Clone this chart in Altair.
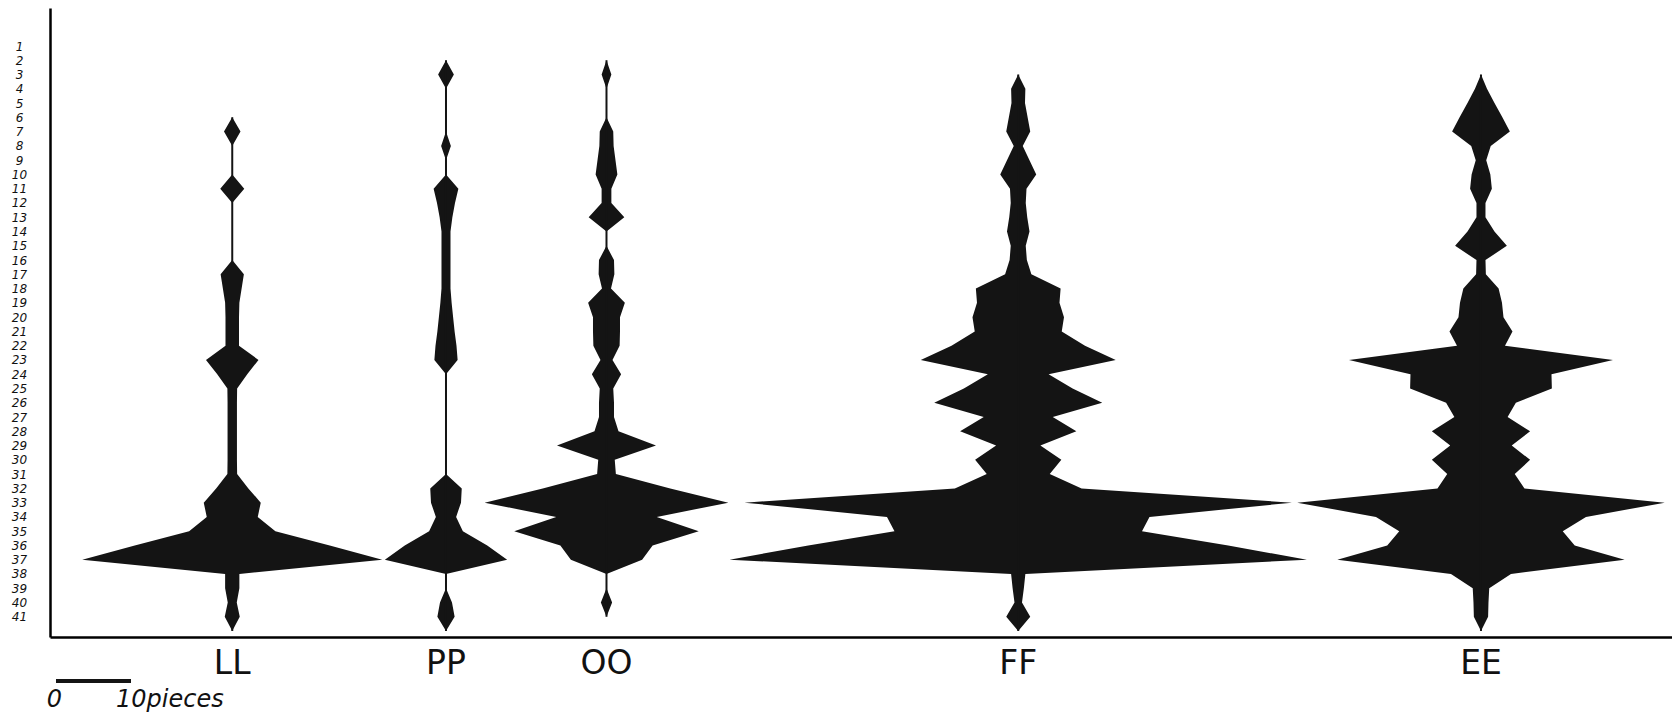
import altair as alt
import pandas as pd

# ---- data: number of pieces per level (levels 1..41) for each assemblage ----
levels = list(range(1, 42))
ships = ["LL", "PP", "OO", "FF", "EE"]

ll = [0, 0, 0, 0, 0, 0, 2.2, 0, 0, 0,
      3.2, 0, 0, 0, 0, 0, 3.1, 2.5, 1.9, 1.8,
      1.8, 1.8, 7.0, 4.0, 1.3, 1.25, 1.25, 1.25, 1.25, 1.25,
      1.3, 4.3, 7.6, 6.8, 11.5, 26, 40, 1.9, 1.9, 1.2,
      2.0]
pp = [0, 0, 2.1, 0, 0, 0, 0, 1.3, 0, 0,
      3.3, 2.4, 1.7, 1.2, 1.2, 1.2, 1.2, 1.2, 1.5, 1.9,
      2.3, 2.8, 3.1, 0, 0, 0, 0, 0, 0, 0,
      0, 4.2, 4.0, 2.7, 4.5, 11, 16.3, 0, 0, 1.6,
      2.3]
oo = [0, 0, 1.3, 0, 0, 0, 1.8, 1.9, 2.4, 2.9,
      1.3, 1.3, 4.75, 0, 0, 2.0, 2.1, 1.2, 4.9, 3.6,
      3.6, 3.5, 1.6, 3.9, 1.8, 2.0, 2.0, 3.2, 13.2, 2.2,
      2.5, 17, 32.5, 13.4, 24.6, 12.3, 9.5, 0, 0, 1.5,
      0]
ff = [0, 0, 0, 1.9, 1.8, 2.5, 3.2, 1.2, 3.0, 4.8,
      2.2, 2.0, 2.4, 3.0, 2.0, 2.3, 3.5, 11.3, 11.0, 12.2,
      11.6, 17.8, 26, 8.1, 14.5, 22.4, 9.2, 15.5, 5.9, 11.5,
      8.4, 16.9, 73, 35, 33, 56, 77, 1.9, 1.5, 1.0,
      3.2]
ee = [0, 0, 0, 1.6, 3.6, 5.7, 7.7, 2.6, 1.4, 2.5,
      2.9, 1.2, 1.2, 3.6, 6.9, 1.2, 1.3, 4.7, 5.6, 6.0,
      8.4, 6.4, 35.2, 18.8, 18.9, 9.3, 7.1, 13.1, 8.2, 13.1,
      9.0, 11.6, 49, 28, 21.8, 25, 38.3, 8.0, 2.2, 2.0,
      1.9]

# layout: centre line of each assemblage, in "pieces" along the x scale
ship_centre = {"LL": 24.3, "PP": 52.8, "OO": 74.2, "FF": 129.1, "EE": 190.8}

series = dict(zip(ships, [ll, pp, oo, ff, ee]))

rows = []
spine_rows = []
for name in ships:
    counts = series[name]
    for lev, c in zip(levels + [42], counts + [0]):
        rows.append({"ship": name, "level": lev, "count": c, "centre": ship_centre[name]})
    nz = [lev for lev, c in zip(levels, counts) if c > 0]
    spine_rows.append({"ship": name, "centre": ship_centre[name],
                       "start": nz[0] - 1, "end": nz[-1] + 1})

df = pd.DataFrame(rows)
spine_df = pd.DataFrame(spine_rows)
name_df = pd.DataFrame({"ship": ships, "centre": [ship_centre[s] for s in ships]})
bar_df = pd.DataFrame({"start": [0.8], "end": [10.8]})
bar0_df = pd.DataFrame({"x": [0.6], "t": ["0"]})
bar10_df = pd.DataFrame({"x": [8.8], "t": ["10pieces"]})

INK = "#141414"
x_scale = alt.Scale(domain=[0, 216.27], nice=False, zero=False)
y_scale = alt.Scale(domain=[-1.663, 42.415], reverse=True, nice=False, zero=False)

y_axis = alt.Axis(values=levels, title=None, ticks=False, grid=False,
                  domainColor="black", domainWidth=2.5,
                  labelFont="DejaVu Sans", labelFontStyle="italic",
                  labelFontSize=12, labelAlign="center", labelPadding=31,
                  labelColor="#111111", labelBaseline="middle")
x_axis = alt.Axis(title=None, labels=False, ticks=False, grid=False,
                  domainColor="black", domainWidth=2.5)

areas = alt.Chart(df).transform_calculate(
    left="datum.centre - datum.count / 2",
    right="datum.centre + datum.count / 2",
).mark_area(orient="horizontal", color=INK, interpolate="linear").encode(
    y=alt.Y("level:Q", scale=y_scale, axis=y_axis),
    x=alt.X("left:Q", scale=x_scale, axis=x_axis),
    x2="right:Q",
    detail="ship:N",
)

spine = alt.Chart(spine_df).mark_rule(color=INK, strokeWidth=2).encode(
    x=alt.X("centre:Q", scale=x_scale, axis=x_axis),
    y=alt.Y("start:Q", scale=y_scale, axis=y_axis),
    y2="end:Q",
)

names = alt.Chart(name_df).mark_text(
    fontSize=33, font="DejaVu Sans", baseline="alphabetic", align="center", color="#111111"
).encode(
    x=alt.X("centre:Q", scale=x_scale, axis=x_axis),
    y=alt.value(666),
    text="ship:N",
)

bar = alt.Chart(bar_df).mark_rule(color=INK, strokeWidth=4).encode(
    x=alt.X("start:Q", scale=x_scale, axis=x_axis),
    x2="end:Q",
    y=alt.value(673),
)

bar0 = alt.Chart(bar0_df).mark_text(
    fontSize=24, font="DejaVu Sans", fontStyle="italic", baseline="alphabetic",
    align="center", color="#111111"
).encode(x=alt.X("x:Q", scale=x_scale, axis=x_axis), y=alt.value(699), text="t:N")

bar10 = alt.Chart(bar10_df).mark_text(
    fontSize=24, font="DejaVu Sans", fontStyle="italic", baseline="alphabetic",
    align="left", color="#111111"
).encode(x=alt.X("x:Q", scale=x_scale, axis=x_axis), y=alt.value(699), text="t:N")

chart = alt.layer(areas, spine, names, bar, bar0, bar10).properties(
    width=1622, height=629,
    autosize=alt.AutoSizeParams(type="none"),
    padding={"left": 50, "top": 8, "right": 0, "bottom": 79},
    background="white",
).configure_view(stroke=None)

chart.save("out.html", embed_options={"renderer": "svg", "actions": False})
